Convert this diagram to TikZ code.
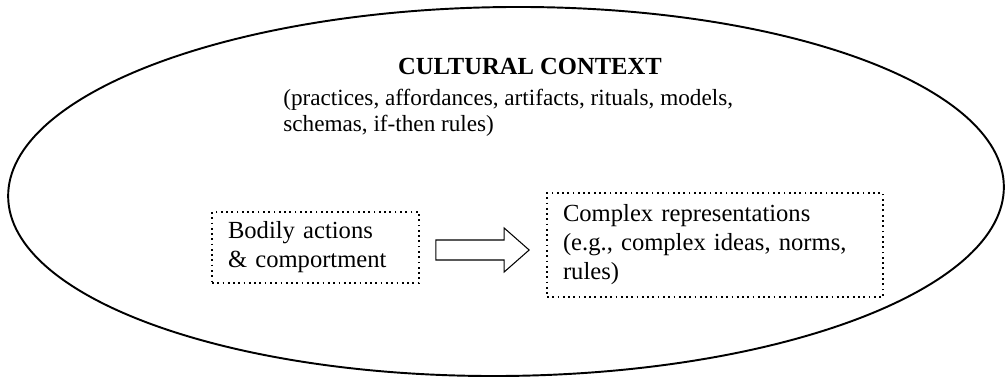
\documentclass[tikz,border=0pt]{standalone}
\usepackage{fontspec}
\setmainfont{Liberation Serif}
\usepackage{tikz}
\usetikzlibrary{shapes.geometric, positioning, calc}

\begin{document}
\begin{tikzpicture}[
  x=0.02cm, y=-0.02cm,
  context/.style={ellipse, draw, line width=1.1pt, inner sep=0pt},
  stagebox/.style={
    draw, dotted, line width=1pt, align=left,
    inner xsep=0.32cm, inner ysep=0pt,
    font=\fontsize{14}{16.5}\selectfont
  },
  blockarrow/.style={draw, line width=0.6pt, line join=miter}
]
  \useasboundingbox (0,0) rectangle (1006,378);

  % the surrounding culture
  \node[context, minimum width=19.92cm, minimum height=7.38cm, rotate=0.6] (ctx) at (506,191.5) {};
  \node[font=\fontsize{14}{16}\selectfont\bfseries] (title) at (530,66) {CULTURAL CONTEXT};
  \node[anchor=west, align=left, inner sep=0pt, font=\fontsize{13.2}{14.8}\selectfont] (contents) at (283,113)
    {(practices, affordances, artifacts, rituals, models,\\schemas, if-then rules)};

  % the two stages
  \node[stagebox, text width=3.5cm, minimum height=1.42cm] (body) at (315.5,247.5)
    {Bodily actions\\\& comportment};
  \node[stagebox, text width=6.08cm, minimum height=2.08cm] (repr) at (715,245)
    {Complex representations\\(e.g., complex ideas, norms,\\rules)};

  % hollow arrow from body to representations
  \coordinate (tail) at ($(body.east)+(16,2.5)$);
  \coordinate (tip) at ($(repr.west)+(-17,5)$);
  \draw[blockarrow] ($(tail)+(0,-10)$) -- ($(tip)+(-25,-10)$) -- ($(tip)+(-25,-22)$)
    -- (tip) -- ($(tip)+(-25,22)$) -- ($(tip)+(-25,10)$) -- ($(tail)+(0,10)$) -- cycle;
\end{tikzpicture}
\end{document}
